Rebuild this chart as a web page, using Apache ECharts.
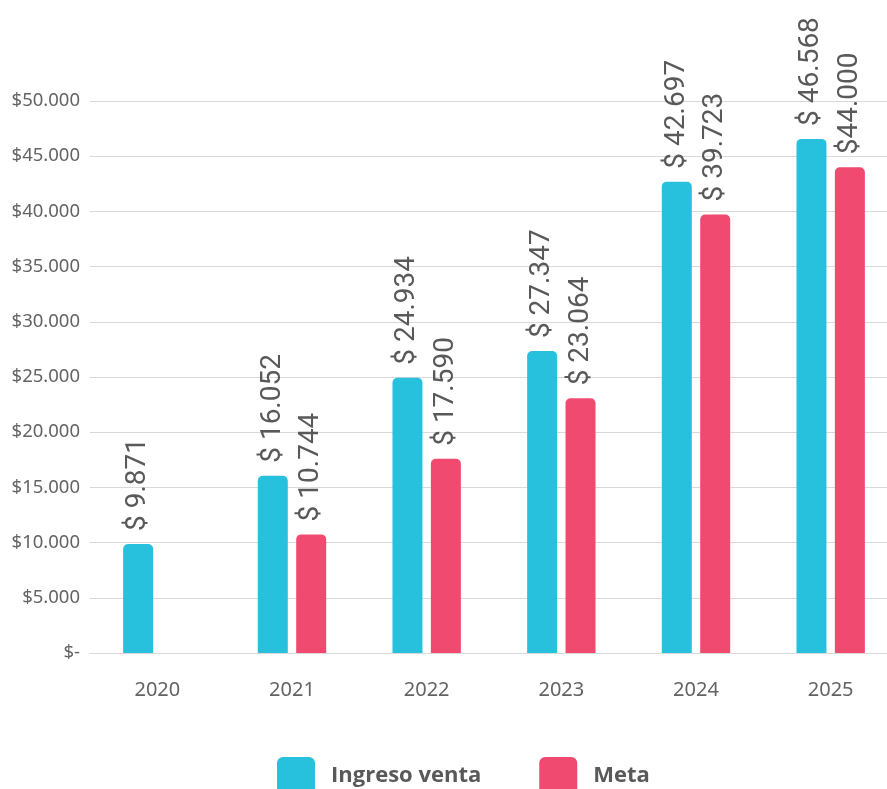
<!DOCTYPE html>
<html>
<head>
<meta charset="utf-8">
<script src="https://cdn.jsdelivr.net/npm/echarts@6/dist/echarts.min.js"></script>
<style>
  html, body { margin: 0; padding: 0; background: #ffffff; overflow: hidden; }
  /* The plot runs a little past the right edge of the page, so the canvas is wider than the view */
  #chart { width: 910px; height: 789px; }
</style>
</head>
<body>
<div id="chart"></div>
<script>
// Yearly sales income vs. target
const years = ['2020', '2021', '2022', '2023', '2024', '2025'];
const ingresoVenta = [9871, 16052, 24934, 27347, 42697, 46568];
const meta = [null, 10744, 17590, 23064, 39723, 44000];
// Prefix used in front of each target value label
const metaLabelPrefix = ['$ ', '$ ', '$ ', '$ ', '$ ', '$'];
const yTicks = [0, 5000, 10000, 15000, 20000, 25000, 30000, 35000, 40000, 45000, 50000];

const GREY = '#595959';
const AXIS_GREY = '#636363';
const CYAN = '#27C1DE';
const PINK = '#F04A70';

function thousands(v) {
  return String(Math.round(v)).replace(/\B(?=(\d{3})+(?!\d))/g, '.');
}

const legendIcon = 'path://M6,0H32A6,6,0,0,1,38,6V32A6,6,0,0,1,32,38H6A6,6,0,0,1,0,32V6A6,6,0,0,1,6,0Z';

const barLabel = {
  show: true,
  position: 'top',
  rotate: 90,
  align: 'left',
  verticalAlign: 'middle',
  distance: 13,
  fontFamily: 'Roboto',
  fontSize: 28,
  color: GREY
};

const chart = echarts.init(document.getElementById('chart'), null, { renderer: 'canvas' });
chart.setOption({
  animation: false,
  backgroundColor: '#ffffff',
  grid: { left: 90, top: 101, width: 808, height: 552, containLabel: false },
  legend: {
    left: 272,
    top: 752,
    itemWidth: 38,
    itemHeight: 38,
    itemGap: 58,
    icon: legendIcon,
    textStyle: {
      fontFamily: 'Open Sans',
      fontWeight: 'bold',
      fontSize: 22,
      color: GREY,
      padding: [0, 0, 0, 11]
    },
    data: ['Ingreso venta', 'Meta']
  },
  xAxis: {
    type: 'category',
    data: years,
    axisLine: { lineStyle: { color: '#d9d9d9', width: 1 } },
    axisTick: { show: false },
    axisLabel: {
      margin: 27,
      fontFamily: 'Noto Sans',
      fontSize: 20,
      color: AXIS_GREY
    }
  },
  yAxis: {
    type: 'value',
    min: yTicks[0],
    max: yTicks[yTicks.length - 1],
    interval: yTicks[1] - yTicks[0],
    axisLine: { show: false },
    axisTick: { show: false },
    splitLine: { lineStyle: { color: '#d9d9d9', width: 1 } },
    axisLabel: {
      margin: 10,
      fontFamily: 'Noto Sans',
      fontSize: 18.5,
      color: AXIS_GREY,
      formatter: v => v === 0 ? '$-' : '$' + thousands(v)
    }
  },
  series: [
    {
      name: 'Ingreso venta',
      type: 'bar',
      data: ingresoVenta,
      barWidth: 30,
      barGap: '28%',
      itemStyle: { color: CYAN, borderRadius: [5, 5, 0, 0] },
      label: Object.assign({}, barLabel, {
        formatter: p => '$ ' + thousands(p.value)
      })
    },
    {
      name: 'Meta',
      type: 'bar',
      data: meta,
      barWidth: 30,
      itemStyle: { color: PINK, borderRadius: [5, 5, 0, 0] },
      label: Object.assign({}, barLabel, {
        formatter: p => metaLabelPrefix[p.dataIndex] + thousands(p.value)
      })
    }
  ]
});
</script>
</body>
</html>
